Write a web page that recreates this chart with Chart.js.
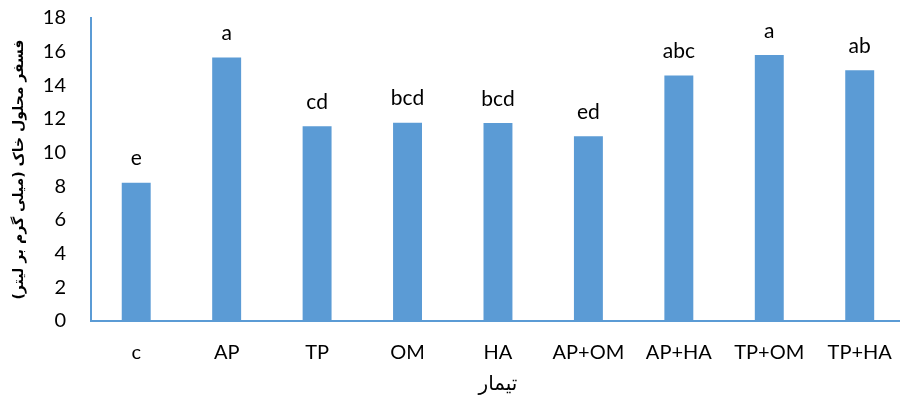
<!DOCTYPE html>
<html><head><meta charset="utf-8">
<script src="https://cdn.jsdelivr.net/npm/chart.js@4/dist/chart.umd.min.js"></script>
<style>html,body{margin:0;padding:0;overflow:hidden;background:#fff;width:900px;height:403px}canvas{display:block}</style>
</head><body>
<canvas id="c" width="912" height="403"></canvas>
<script>
const categories = ['c','AP','TP','OM','HA','AP+OM','AP+HA','TP+OM','TP+HA'];
const values = [8.22,15.65,11.57,11.78,11.76,10.97,14.58,15.8,14.9];
const letters = ['e','a','cd','bcd','bcd','ed','abc','a','ab'];
const yTicks = [0,2,4,6,8,10,12,14,16,18];
const yTitle = 'فسفر محلول خاک (میلی گرم بر لیتر)';
const xTitle = 'تیمار';

const barColor = '#5B9BD5';
const axisColor = '#5B9BD5';
const latin = 'Lato, "Open Sans", sans-serif';

const letterPlugin = {
  id: 'letters',
  afterDatasetsDraw(chart) {
    const ctx = chart.ctx;
    const meta = chart.getDatasetMeta(0);
    ctx.save();
    ctx.font = '21px ' + latin;
    ctx.fillStyle = '#000';
    ctx.textAlign = 'center';
    ctx.textBaseline = 'middle';
    meta.data.forEach((bar, i) => {
      ctx.fillText(letters[i], bar.x, bar.y - 24);
    });
    ctx.restore();
  }
};

new Chart(document.getElementById('c'), {
  type: 'bar',
  data: {
    labels: categories,
    datasets: [{
      data: values,
      backgroundColor: barColor,
      borderWidth: 0,
      barPercentage: 0.32,
      categoryPercentage: 1
    }]
  },
  options: {
    responsive: false,
    animation: false,
    events: [],
    layout: { padding: { top: 0, right: 3, left: 0, bottom: 0 } },
    plugins: { legend: { display: false }, tooltip: { enabled: false } },
    scales: {
      x: {
        grid: { display: false, drawTicks: false },
        border: { display: true, color: axisColor, width: 2 },
        ticks: { color: '#000', font: { family: latin, size: 20 }, padding: 20, maxRotation: 0, autoSkip: false },
        title: { display: true, text: xTitle, color: '#000', font: { family: '"DejaVu Sans"', size: 20 }, padding: { top: 4, bottom: 6 } },
        afterFit(s) { s.height = 82; }
      },
      y: {
        min: 0, max: 18,
        afterBuildTicks(s) { s.ticks = yTicks.map(v => ({ value: v })); },
        grid: { display: false, drawTicks: false },
        border: { display: true, color: axisColor, width: 2 },
        ticks: { color: '#000', font: { family: latin, size: 20 }, padding: 25 },
        title: { display: true, text: yTitle, color: '#000', font: { family: '"DejaVu Sans"', size: 14, weight: 'bold' }, padding: { top: 11, bottom: 4 } },
        afterFit(s) { s.width = 91; s.paddingTop = 18; s.paddingBottom = 0; }
      }
    }
  },
  plugins: [letterPlugin]
});
</script>
</body></html>
